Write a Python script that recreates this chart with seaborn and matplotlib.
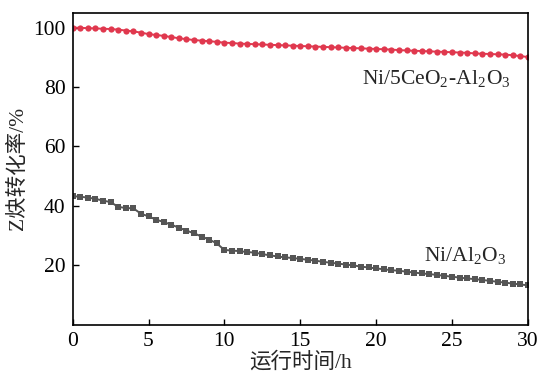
import numpy as np
import pandas as pd
import matplotlib
matplotlib.use("Agg")
import matplotlib.pyplot as plt
import seaborn as sns

hours = [i * 0.5 for i in range(61)]
ni_ce = [100.0, 99.9, 99.8, 99.7, 99.6, 99.5, 99.3, 99.0, 98.7, 98.3,
         97.8, 97.5, 97.2, 96.8, 96.4, 96.1, 95.8, 95.6, 95.4, 95.2,
         94.9, 94.8, 94.6, 94.5, 94.4, 94.3, 94.2, 94.1, 94.0, 93.9,
         93.8, 93.7, 93.6, 93.5, 93.4, 93.3, 93.2, 93.1, 93.0, 92.9,
         92.8, 92.7, 92.6, 92.4, 92.3, 92.2, 92.1, 92.0, 91.9, 91.8,
         91.7, 91.6, 91.5, 91.3, 91.2, 91.1, 91.0, 90.9, 90.7, 90.4, 90.1]
ni_al = [43.3, 43.1, 42.8, 42.4, 41.8, 41.3, 39.7, 39.3, 39.2, 37.4,
         36.5, 35.4, 34.6, 33.7, 32.7, 31.7, 30.8, 29.7, 28.7, 27.4,
         25.2, 25.0, 24.8, 24.5, 24.3, 23.8, 23.4, 23.0, 22.7, 22.5,
         22.2, 21.9, 21.6, 21.2, 20.9, 20.6, 20.3, 20.0, 19.6, 19.3,
         19.0, 18.7, 18.4, 18.2, 17.9, 17.6, 17.3, 17.1, 16.8, 16.5,
         16.2, 15.9, 15.6, 15.4, 15.1, 14.8, 14.5, 14.2, 13.9, 13.6, 13.3]
series_names = ["Ni/5CeO2-Al2O3", "Ni/Al2O3"]
series_labels = [r"Ni/5CeO$_\mathregular{2}$-Al$_\mathregular{2}$O$_\mathregular{3}$",
                 r"Ni/Al$_\mathregular{2}$O$_\mathregular{3}$"]
x_ticks = [0, 5, 10, 15, 20, 25, 30]
y_ticks = [20, 40, 60, 80, 100]
xlabel = "运行时间/h"
ylabel = "Z炔转化率/%"

df = pd.DataFrame({
    "h": hours + hours,
    "conv": ni_ce + ni_al,
    "cat": [series_names[0]] * len(hours) + [series_names[1]] * len(hours),
})

sns.set_theme(style="ticks")
plt.rcParams["font.family"] = ["Liberation Serif", "Noto Sans CJK SC"]
plt.rcParams["mathtext.fontset"] = "stix"

fs = 15.5
fig = plt.figure(figsize=(5.42, 3.73), dpi=100)
ax = fig.add_axes([0.134, 0.129, 0.840, 0.837])

palette = {series_names[0]: "#e0384e", series_names[1]: "#555555"}
sns.lineplot(data=df, x="h", y="conv", hue="cat", style="cat",
             markers={series_names[0]: "o", series_names[1]: "s"},
             dashes=False, palette=palette, markersize=4.5, linewidth=1.4,
             markeredgewidth=0, legend=False, ax=ax)

ax.set_xlim(0, 30)
ax.set_ylim(0, 105)
ax.set_xticks(x_ticks)
ax.set_yticks(y_ticks)
ax.tick_params(direction="in", length=4, width=1, labelsize=fs, colors="black", pad=5)
for s in ax.spines.values():
    s.set_linewidth(1.2)
    s.set_color("black")
ax.set_xlabel(xlabel, fontsize=fs, labelpad=1)
ax.set_ylabel(ylabel, fontsize=fs, labelpad=4)

ax.text(28.9, 83, series_labels[0], fontsize=fs, ha="right", va="center")
ax.text(28.6, 23.5, series_labels[1], fontsize=fs, ha="right", va="center")

fig.savefig("out.png", dpi=100)
